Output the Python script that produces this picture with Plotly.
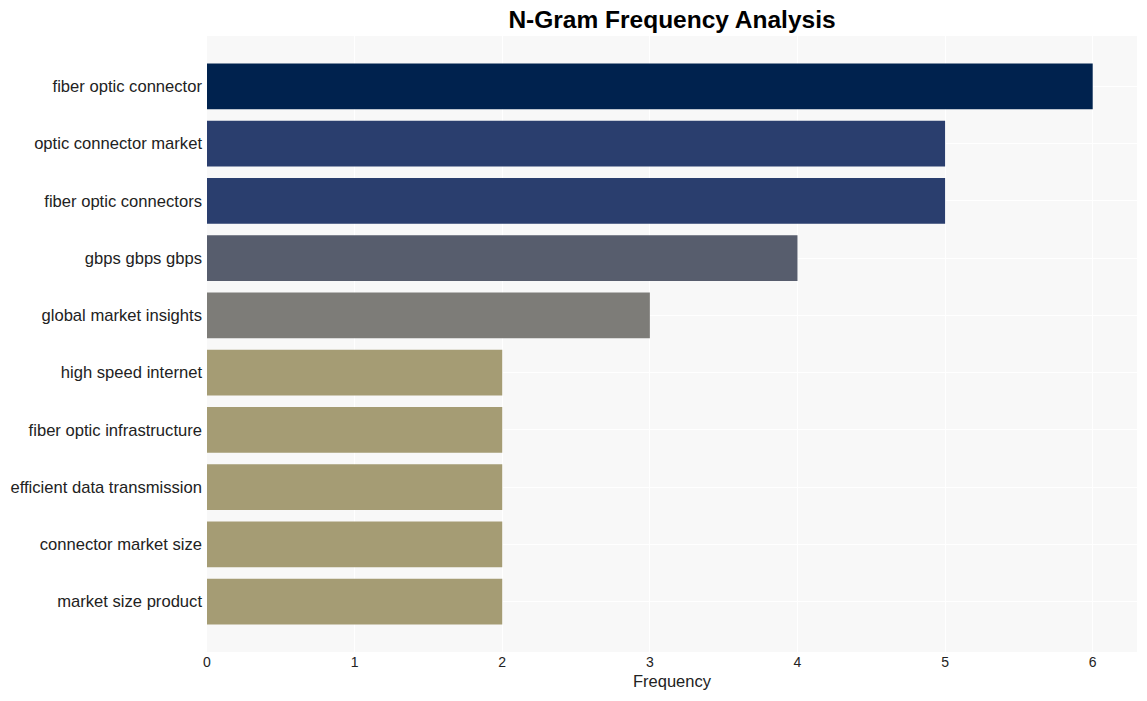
import plotly.graph_objects as go

ngrams = [
    "fiber optic connector",
    "optic connector market",
    "fiber optic connectors",
    "gbps gbps gbps",
    "global market insights",
    "high speed internet",
    "fiber optic infrastructure",
    "efficient data transmission",
    "connector market size",
    "market size product",
]
frequencies = [6, 5, 5, 4, 3, 2, 2, 2, 2, 2]
color_map = {6: "#00224e", 5: "#2a3e6e", 4: "#575d6d", 3: "#7d7c78", 2: "#a59c74"}
colors = [color_map[v] for v in frequencies]

fig = go.Figure(
    go.Bar(
        x=frequencies[::-1],
        y=ngrams[::-1],
        orientation="h",
        marker=dict(color=colors[::-1], line=dict(width=0)),
    )
)

fig.update_layout(
    width=1147,
    height=701,
    margin=dict(l=207, r=10, t=36, b=49),
    paper_bgcolor="white",
    plot_bgcolor="#f8f8f8",
    font=dict(family="Arial, Liberation Sans, sans-serif", color="#222"),
    title=dict(
        text="<b>N-Gram Frequency Analysis</b>",
        x=0.5,
        xref="paper",
        xanchor="center",
        y=0.972,
        yref="container",
        yanchor="middle",
        font=dict(size=24.5, color="#000"),
    ),
    bargap=0.2,
    showlegend=False,
)
fig.update_xaxes(
    range=[0, 6.3],
    dtick=1,
    showgrid=True,
    gridcolor="white",
    gridwidth=1,
    zeroline=False,
    tickfont=dict(size=14),
    title=dict(text="Frequency", font=dict(size=16.5), standoff=6),
)
fig.update_yaxes(
    range=[-0.88, 9.88],
    showgrid=True,
    gridcolor="white",
    tickfont=dict(size=16.6),
    ticks="",
    ticklabelstandoff=4,
)

fig.write_html("out.html")
